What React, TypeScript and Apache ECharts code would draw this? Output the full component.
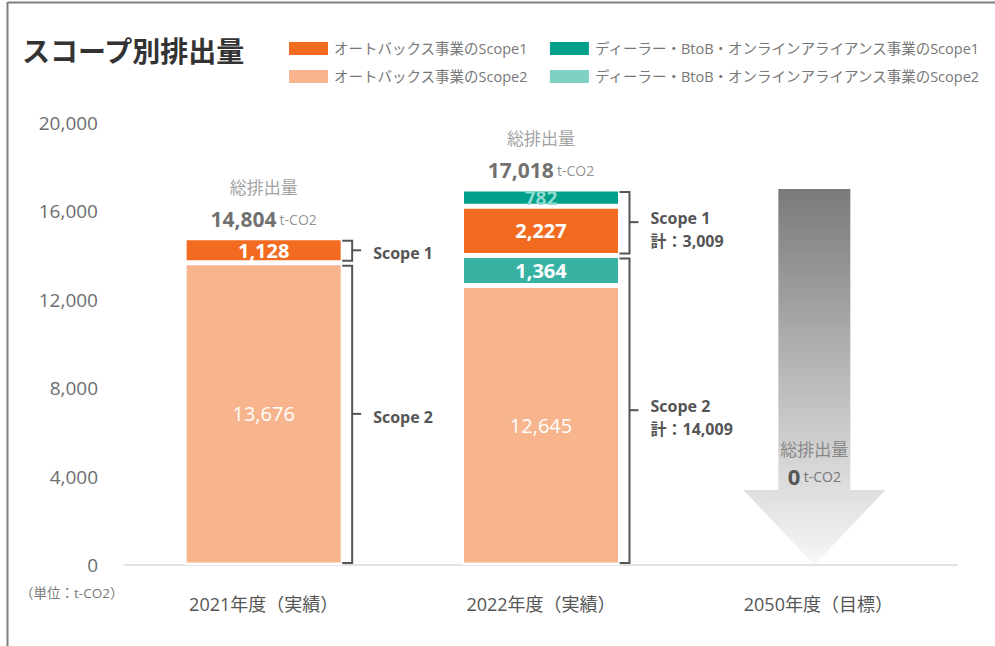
import React, { useEffect, useRef } from "react";
import * as echarts from "echarts";

const categories = ["2021年度（実績）", "2022年度（実績）", "2050年度（目標）"];
const autobacsScope2 = [13676, 12645, null];
const dealerScope2 = [null, 1364, null];
const autobacsScope1 = [1128, 2227, null];
const dealerScope1 = [null, 782, null];
const totals = [14804, 17018, 0];
const scope2Subtotals = [13676, 14009, null];
const scope1Subtotals = [1128, 3009, null];
const showSubtotalNote = [false, true, false];
const yMin = 0;
const yMax = 20000;
const yInterval = 4000;

const nameA1 = "オートバックス事業のScope1";
const nameD1 = "ディーラー・BtoB・オンラインアライアンス事業のScope1";
const nameA2 = "オートバックス事業のScope2";
const nameD2 = "ディーラー・BtoB・オンラインアライアンス事業のScope2";

const FONT = '"Open Sans", "Noto Sans CJK JP", "Noto Sans", sans-serif';
const CJK = '"Noto Sans CJK JP", "Open Sans", sans-serif';
const fmt = (v: number) => v.toLocaleString("en-US");

export default function App() {
  const ref = useRef<HTMLDivElement>(null);
  useEffect(() => {
    const chart = echarts.init(ref.current!, null, { renderer: "svg" });

    // bracket data: [catIndex, low, high, scopeIndex]
    const bracketData: any[] = [];
    for (let i = 0; i < categories.length; i++) {
      if (scope2Subtotals[i] == null) continue;
      bracketData.push([i, scope2Subtotals[i], totals[i], 1]);
      bracketData.push([i, 0, scope2Subtotals[i], 2]);
    }
    const barW = 157;

    const barLabel = (color: string, bold: boolean, size: number) => ({
      show: true,
      position: "inside",
      color,
      fontSize: size,
      fontWeight: bold ? "bold" : "normal",
      fontFamily: FONT,
      formatter: (p: any) => (p.value == null ? "" : fmt(p.value)),
    });

    const legendBase = {
      left: 282,
      icon: "rect",
      itemWidth: 41,
      itemHeight: 15,
      itemGap: 20,
      selectedMode: false,
      textStyle: { color: "#777", fontSize: 14.5, fontFamily: FONT },
    };

    const option: any = {
      animation: false,
      backgroundColor: "#fff",
      textStyle: { fontFamily: FONT },
      grid: { left: 125, right: 38, top: 123, bottom: 81 },
      legend: [
        {
          ...legendBase,
          top: 35,
          data: [
            { name: nameA1, itemStyle: { color: "#F26B21" } },
            { name: nameD1, itemStyle: { color: "#00A08A" } },
          ],
        },
        {
          ...legendBase,
          top: 63,
          data: [
            { name: nameA2, itemStyle: { color: "#F7B48D" } },
            { name: nameD2, itemStyle: { color: "#7FD0C5" } },
          ],
        },
      ],
      xAxis: {
        type: "category",
        data: categories,
        axisLine: { lineStyle: { color: "#e2e2e2", width: 2 } },
        axisTick: { show: false },
        axisLabel: { color: "#555", fontSize: 18, margin: 30, fontFamily: FONT },
      },
      yAxis: {
        type: "value",
        min: yMin,
        max: yMax,
        interval: yInterval,
        splitLine: { show: false },
        axisLine: { show: false },
        axisTick: { show: false },
        axisLabel: {
          color: "#6e6e6e",
          fontSize: 19,
          margin: 27,
          fontFamily: FONT,
          formatter: (v: number) => fmt(v),
        },
      },
      graphic: [
        { type: "line", shape: { x1: 8, y1: 2.5, x2: 995, y2: 2.5 }, style: { stroke: "#7f7f7f", lineWidth: 2 } },
        { type: "line", shape: { x1: 7.5, y1: 2, x2: 7.5, y2: 646 }, style: { stroke: "#7f7f7f", lineWidth: 2 } },
        {
          type: "text",
          x: 22,
          y: 50,
          style: { text: "スコープ別排出量", font: `bold 28px ${CJK}`, fill: "#333", verticalAlign: "middle" },
        },
        {
          type: "text",
          x: 20,
          y: 593,
          style: { text: "（単位：t-CO2）", font: `13.5px ${FONT}`, fill: "#777", verticalAlign: "middle" },
        },
      ],
      series: [
        {
          name: nameA2,
          type: "bar",
          stack: "total",
          barWidth: barW + 2,
          data: autobacsScope2,
          itemStyle: { color: "#F7B48D", borderColor: "#fff", borderWidth: 2.5 },
          label: barLabel("#fff", false, 20),
        },
        {
          name: nameD2,
          type: "bar",
          stack: "total",
          barWidth: barW + 2,
          data: dealerScope2,
          itemStyle: { color: "#38B3A3", borderColor: "#fff", borderWidth: 2.5 },
          label: barLabel("#fff", true, 20),
        },
        {
          name: nameA1,
          type: "bar",
          stack: "total",
          barWidth: barW + 2,
          data: autobacsScope1,
          itemStyle: { color: "#F26B21", borderColor: "#fff", borderWidth: 2.5 },
          label: barLabel("#fff", true, 20),
        },
        {
          name: nameD1,
          type: "bar",
          stack: "total",
          barWidth: barW + 2,
          data: dealerScope1,
          itemStyle: { color: "#00A08A", borderColor: "#fff", borderWidth: 2.5 },
          label: barLabel("#8FDCCF", true, 19),
        },
        {
          name: "totals",
          type: "scatter",
          symbolSize: 1,
          itemStyle: { color: "rgba(0,0,0,0)" },
          data: totals.map((v, i) => (i < 2 ? v : "-")),
          label: {
            show: true,
            position: "top",
            distance: 5,
            formatter: (p: any) => `{a|総排出量}\n{b|${fmt(p.value)}} {c|t-CO2}`,
            rich: {
              a: { fontSize: 17, color: "#888", lineHeight: 40, fontFamily: CJK },
              b: { fontSize: 21, color: "#4a4a4a", fontWeight: "bold", lineHeight: 26, fontFamily: FONT },
              c: { fontSize: 14, color: "#777", lineHeight: 26, fontFamily: FONT },
            },
          },
          z: 5,
        },
        {
          name: "brackets",
          type: "custom",
          coordinateSystem: "cartesian2d",
          encode: { x: 0, y: [1, 2] },
          data: bracketData,
          z: 6,
          renderItem: (params: any, api: any) => {
            const cat = api.value(0);
            const lo = api.value(1);
            const hi = api.value(2);
            const scope = api.value(3);
            const pLo = api.coord([cat, lo]);
            const pHi = api.coord([cat, hi]);
            const x0 = pLo[0] + barW / 2;
            const xv = x0 + 10;
            const yTop = pHi[1] + 3;
            const yBot = pLo[1] - 2;
            const yMid = (pHi[1] + pLo[1]) / 2;
            const sub = scope === 1 ? scope1Subtotals[cat] : scope2Subtotals[cat];
            const note = showSubtotalNote[cat];
            const text = note
              ? `{s|Scope ${scope}}\n{t|計：${fmt(sub as number)}}`
              : `{s|Scope ${scope}}`;
            return {
              type: "group",
              children: [
                {
                  type: "polyline",
                  shape: { points: [[x0, yTop], [xv, yTop], [xv, yBot], [x0, yBot]] },
                  style: { stroke: "#555", lineWidth: 2, fill: "none" },
                },
                {
                  type: "line",
                  shape: { x1: xv, y1: yMid, x2: xv + 9, y2: yMid },
                  style: { stroke: "#555", lineWidth: 2 },
                },
                {
                  type: "text",
                  x: xv + 21,
                  y: yMid + (note ? 7 : 3),
                  style: {
                    text,
                    align: "left",
                    verticalAlign: "middle",
                    rich: {
                      s: { fontSize: 16, fontWeight: "bold", fill: "#555", lineHeight: 23, fontFamily: FONT },
                      t: { fontSize: 16, fontWeight: "bold", fill: "#555", lineHeight: 23, fontFamily: FONT },
                    },
                  },
                },
              ],
            };
          },
        },
        {
          name: "arrow",
          type: "custom",
          coordinateSystem: "cartesian2d",
          encode: { x: 0, y: [1, 2] },
          data: [[2, totals[1], totals[2]]],
          z: 4,
          renderItem: (params: any, api: any) => {
            const cat = api.value(0);
            const pTop = api.coord([cat, api.value(1)]);
            const pBase = api.coord([cat, api.value(2)]);
            const cx = pTop[0] - 4;
            const yT = pTop[1];
            const yB = pBase[1];
            const yH = yB - 75;
            const sw = 36;
            const hw = 71;
            return {
              type: "group",
              children: [
                {
                  type: "polygon",
                  shape: {
                    points: [
                      [cx - sw, yT],
                      [cx + sw, yT],
                      [cx + sw, yH],
                      [cx + hw, yH],
                      [cx, yB],
                      [cx - hw, yH],
                      [cx - sw, yH],
                    ],
                  },
                  style: {
                    fill: new echarts.graphic.LinearGradient(0, 0, 0, 1, [
                      { offset: 0, color: "#7a7a7a" },
                      { offset: 0.5, color: "#b9b9b9" },
                      { offset: 0.8, color: "#dedede" },
                      { offset: 1, color: "#f7f7f7" },
                    ]),
                  },
                },
                {
                  type: "text",
                  x: cx,
                  y: yB - 117,
                  style: {
                    text: "総排出量",
                    align: "center",
                    verticalAlign: "middle",
                    font: `17px ${CJK}`,
                    fill: "#888",
                  },
                },
                {
                  type: "text",
                  x: cx,
                  y: yB - 89,
                  style: {
                    text: `{b|${fmt(api.value(2))}} {c|t-CO2}`,
                    align: "center",
                    verticalAlign: "middle",
                    rich: {
                      b: { fontSize: 22, fontWeight: "bold", fill: "#555", fontFamily: FONT },
                      c: { fontSize: 14, fill: "#777", fontFamily: FONT },
                    },
                  },
                },
              ],
            };
          },
        },
      ],
    };
    chart.setOption(option);
    return () => chart.dispose();
  }, []);

  return (
    <div
      ref={ref}
      style={{ position: "fixed", left: 0, top: 0, width: 995, height: 646, background: "#fff" }}
    />
  );
}
